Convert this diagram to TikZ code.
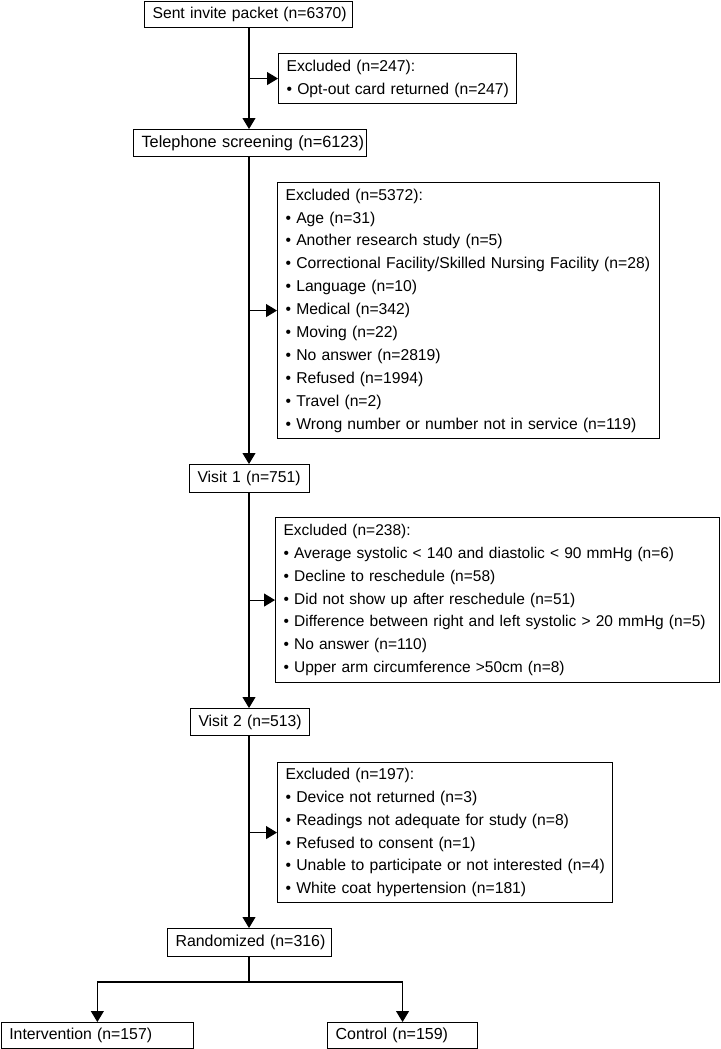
\documentclass[tikz,border=0pt]{standalone}
\usepackage{fontspec}
\setmainfont{Liberation Sans}
\usetikzlibrary{arrows.meta}
\newcommand{\oneline}[1]{\mbox{#1}}
\begin{document}
\begin{tikzpicture}[x=1pt,y=-1pt,
  box/.style={draw=black,line width=1.1pt,anchor=north west,align=left,
    inner xsep=8pt,inner ysep=0pt,font=\fontsize{15.7}{22.9}\selectfont},
  arr/.style={line width=1.1pt,-{Triangle[length=11pt,width=13pt]}},
  plainline/.style={line width=1.1pt}]
\useasboundingbox (0,0) rectangle (720,1049);

\node[box,text width=192pt,minimum height=26pt] (sent) at (144,0.8) {\oneline{Sent invite packet (n=6370)}};
\node[box,text width=222pt,minimum height=50pt] (ex1) at (278,53) {\oneline{Excluded (n=247):}\\
\oneline{• Opt-out card returned (n=247)}};
\node[box,text width=217pt,minimum height=27pt,font=\fontsize{16.3}{22.9}\selectfont] (tel) at (133,129) {\oneline{Telephone screening (n=6123)}};
\node[box,text width=366pt,minimum height=256pt] (ex2) at (277,182) {\oneline{Excluded (n=5372):}\\
\oneline{• Age (n=31)}\\
\oneline{• Another research study (n=5)}\\
\oneline{• Correctional Facility/Skilled Nursing Facility (n=28)}\\
\oneline{• Language (n=10)}\\
\oneline{• Medical (n=342)}\\
\oneline{• Moving (n=22)}\\
\oneline{• No answer (n=2819)}\\
\oneline{• Refused (n=1994)}\\
\oneline{• Travel (n=2)}\\
\oneline{• Wrong number or number not in service (n=119)}};
\node[box,text width=104pt,minimum height=28pt] (v1) at (189,464) {\oneline{Visit 1 (n=751)}};
\node[box,text width=428pt,minimum height=165pt,font=\fontsize{15.5}{22.9}\selectfont] (ex3) at (275,517) {\oneline{Excluded (n=238):}\\
\oneline{• Average systolic < 140 and diastolic < 90 mmHg (n=6)}\\
\oneline{• Decline to reschedule (n=58)}\\
\oneline{• Did not show up after reschedule (n=51)}\\
\oneline{• Difference between right and left systolic > 20 mmHg (n=5)}\\
\oneline{• No answer (n=110)}\\
\oneline{• Upper arm circumference >50cm (n=8)}};
\node[box,text width=103pt,minimum height=27pt] (v2) at (190,708) {\oneline{Visit 2 (n=513)}};
\node[box,text width=319pt,minimum height=140pt] (ex4) at (277,762) {\oneline{Excluded (n=197):}\\
\oneline{• Device not returned (n=3)}\\
\oneline{• Readings not adequate for study (n=8)}\\
\oneline{• Refused to consent (n=1)}\\
\oneline{• Unable to participate or not interested (n=4)}\\
\oneline{• White coat hypertension (n=181)}};
\node[box,text width=148pt,minimum height=28pt,font=\fontsize{15.9}{22.9}\selectfont] (rand) at (167,928) {\oneline{Randomized (n=316)}};
\node[box,text width=176pt,minimum height=26pt,font=\fontsize{15.8}{22.9}\selectfont] (int) at (0.8,1022) {\oneline{Intervention (n=157)}};
\node[box,text width=134pt,minimum height=26pt,font=\fontsize{16}{22.9}\selectfont] (ctl) at (327,1022) {\oneline{Control (n=159)}};

\coordinate (m) at (249,0);
\coordinate (split) at (249,982);

\draw[arr] (sent.south -| m) -- (tel.north -| m);
\draw[arr] (ex1.west -| m) -- (ex1.west);
\draw[arr] (tel.south -| m) -- (v1.north -| m);
\draw[arr] (ex2.west -| m) -- (ex2.west);
\draw[arr] (v1.south -| m) -- (v2.north -| m);
\draw[arr] (ex3.west -| m) -- (ex3.west);
\draw[arr] (v2.south -| m) -- (rand.north -| m);
\draw[arr] (ex4.west -| m) -- (ex4.west);
\draw[plainline] (rand.south -| m) -- (split);
\draw[arr] (split) -| (int.north);
\draw[arr] (split) -| (ctl.north);
\end{tikzpicture}
\end{document}
